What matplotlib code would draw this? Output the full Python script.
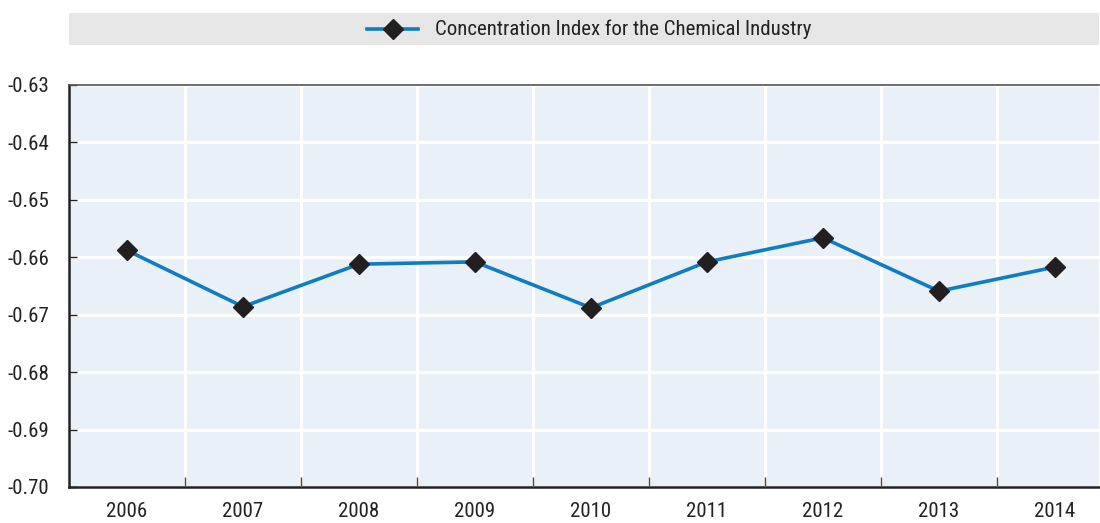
import matplotlib
matplotlib.use("Agg")
import matplotlib.pyplot as plt
from matplotlib.lines import Line2D
from matplotlib.patches import Rectangle
from matplotlib import font_manager

years = ["2006", "2007", "2008", "2009", "2010", "2011", "2012", "2013", "2014"]
values = [-0.6588, -0.6686, -0.6612, -0.6608, -0.6688, -0.6608, -0.6566, -0.6659, -0.6617]
yticks = [-0.63, -0.64, -0.65, -0.66, -0.67, -0.68, -0.69, -0.70]
series_name = "Concentration Index for the Chemical Industry"

names = {f.name for f in font_manager.fontManager.ttflist}
fam = [f for f in ["Liberation Sans Narrow", "Roboto Condensed", "Liberation Sans", "DejaVu Sans"] if f in names]
plt.rcParams["font.family"] = fam

W, H = 1100, 523
fig = plt.figure(figsize=(W / 100, H / 100), dpi=100)
ax = fig.add_axes([69 / W, 1 - 487 / H, (1099 - 69) / W, (487 - 85) / H])

x = list(range(len(years)))
ax.set_facecolor("#eaf0f8")
ax.plot(x, values, color="#0f7dc2", lw=2.6, marker="D", ms=10, mfc="#231f20", mec="#231f20", zorder=3)

ax.set_xlim(-0.5, 8.38)
ax.set_ylim(-0.70, -0.63)
ax.set_yticks(yticks)
ax.set_yticklabels([f"{v:.2f}" for v in yticks], fontsize=15, color="#222222")
ax.set_xticks(x)
ax.set_xticklabels(years, fontsize=15, color="#222222")
ax.set_xticks([i + 0.5 for i in range(len(years) - 1)], minor=True)

ax.grid(axis="y", which="major", color="white", lw=2.2)
ax.grid(axis="x", which="minor", color="white", lw=2.2)
ax.set_axisbelow(True)

ax.tick_params(axis="x", which="major", length=0, pad=11)
ax.tick_params(axis="x", which="minor", length=7, direction="in", color="#444444", width=1)
ax.tick_params(axis="y", which="major", length=6, direction="in", color="#222222", width=1, pad=14)

for side in ["left", "bottom", "top"]:
    ax.spines[side].set_color("#222222")
    ax.spines[side].set_linewidth(1.8)
ax.spines["top"].set_linewidth(1.2)
ax.spines["top"].set_color("#555555")
ax.spines["right"].set_visible(False)

# legend band
fig.patches.append(Rectangle((69 / W, 1 - 45 / H), (1099 - 69) / W, 32 / H,
                             transform=fig.transFigure, facecolor="#e6e6e6", edgecolor="none", zorder=0))
fig.lines.append(Line2D([367 / W, 418 / W], [1 - 29.5 / H] * 2, transform=fig.transFigure,
                        color="#0f7dc2", lw=2.6))
fig.lines.append(Line2D([393 / W], [1 - 29.5 / H], transform=fig.transFigure, marker="D", ms=10,
                        mfc="#231f20", mec="#231f20", lw=0))
fig.text(435 / W, 1 - 29.5 / H, series_name, fontsize=15, color="#222222", va="center", ha="left")

fig.savefig("out.png", dpi=100)
